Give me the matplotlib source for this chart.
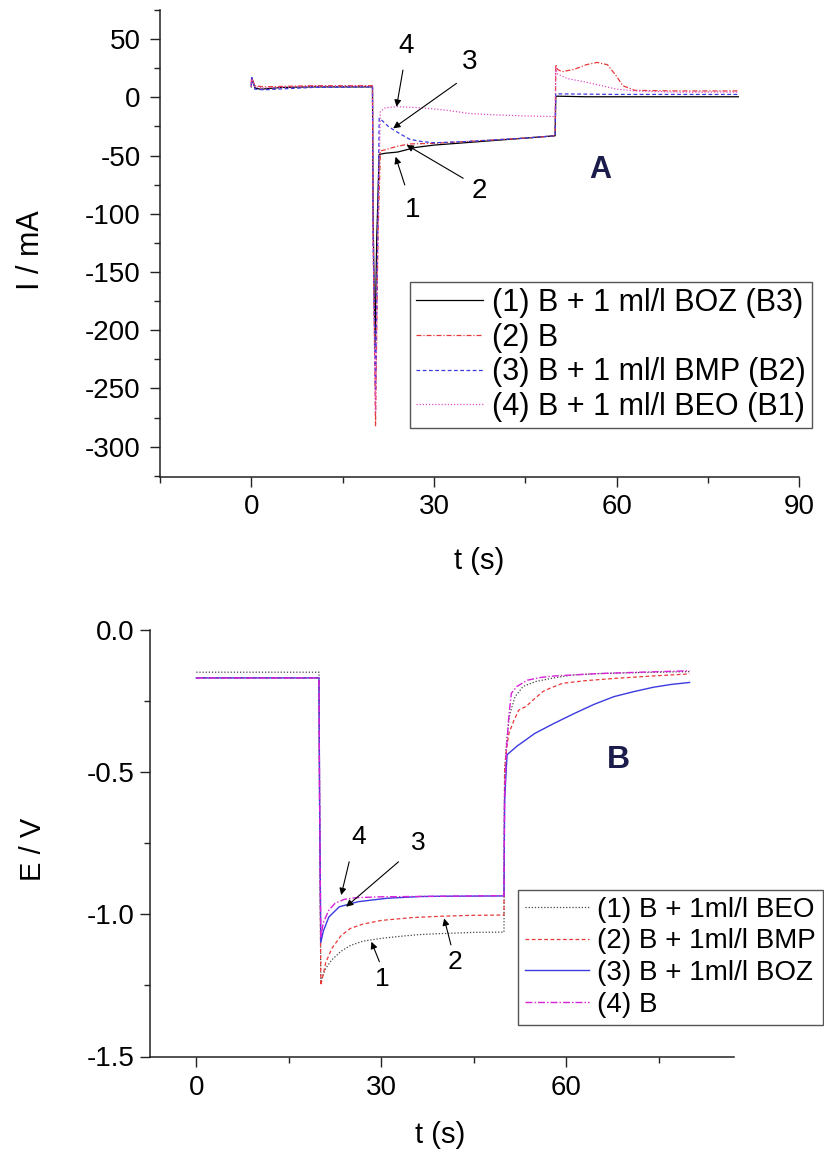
import matplotlib
matplotlib.use("Agg")
import matplotlib.pyplot as plt
from matplotlib.ticker import MultipleLocator, FormatStrFormatter

plt.rcParams['font.family'] = ['Liberation Sans', 'DejaVu Sans']
plt.rcParams['axes.unicode_minus'] = False

# ---------------- Panel A data: current I (mA) vs t (s) ----------------
tA1 = [0, 0.05, 0.6, 1.5, 5, 10, 19.9, 20.0, 20.3, 20.6, 21.0, 22, 24, 27, 30, 35, 40, 45, 49.9, 50.0, 50.2, 55, 60, 70, 80]
iA1 = [9, 17, 8, 7, 8.5, 9, 9, -100, -215, -120, -49, -48, -47, -43, -41, -39, -37, -35, -33, 0.5, 1, 0.5, 0.5, 0.5, 0.5]

tA2 = [0, 0.05, 0.6, 2, 10, 19.9, 20.0, 20.4, 20.8, 21.2, 22, 24, 26, 30, 35, 40, 45, 49.9, 50.0, 50.3, 51, 53, 55, 56.8, 58.5, 60, 61, 63, 70, 80]
iA2 = [10, 17, 10, 9, 10, 10, -120, -282, -120, -46, -45, -42, -40, -39.5, -38, -36.5, -35, -33, 28, 24, 22, 24, 28, 30, 28, 18, 10, 6, 5.5, 5.5]

tA3 = [0, 0.05, 0.6, 2, 10, 19.9, 20.0, 20.4, 20.8, 21.0, 21.5, 22.5, 24, 26, 28, 30, 35, 40, 45, 49.9, 50.0, 50.3, 60, 80]
iA3 = [10, 17, 7, 6.5, 8.5, 9, -120, -250, -100, -18, -20, -25, -30, -36, -38, -39, -38, -36.5, -35, -33, 3, 3, 2.5, 2.5]

tA4 = [0, 0.05, 0.6, 2, 10, 19.9, 20.0, 20.4, 20.8, 21.2, 22, 24, 28, 32, 36, 40, 45, 49.9, 50.0, 50.3, 52, 55, 57.5, 60, 63, 66, 70, 80]
iA4 = [9, 16, 9, 8, 9.5, 9.5, -120, -270, -110, -12, -9, -8, -9, -11, -14, -15, -16, -16.5, 25, 20, 16, 13, 10, 7, 5.5, 5, 4.5, 4.5]

labelsA = ['(1) B + 1 ml/l BOZ (B3)', '(2) B', '(3) B + 1 ml/l BMP (B2)', '(4) B + 1 ml/l BEO (B1)']

# ---------------- Panel B data: potential E (V) vs t (s) ----------------
tB1 = [0, 19.9, 20.0, 20.2, 21, 22, 23.5, 25, 27, 30, 33, 36, 40, 45, 49.9, 50.0, 50.3, 50.8, 51.7, 53, 55, 58, 61, 65, 70, 75, 80]
eB1 = [-0.15, -0.15, -0.6, -1.235, -1.19, -1.16, -1.13, -1.11, -1.095, -1.085, -1.078, -1.072, -1.068, -1.064, -1.063, -0.5, -0.40, -0.30, -0.236, -0.20, -0.183, -0.170, -0.160, -0.155, -0.152, -0.150, -0.148]

tB2 = [0, 19.9, 20.0, 20.2, 21, 22, 23.5, 25, 27, 30, 35, 40, 45, 49.9, 50.0, 50.3, 50.7, 51.5, 52.3, 53.5, 54.5, 56.2, 57.5, 59.4, 63, 67.7, 75, 80]
eB2 = [-0.17, -0.17, -0.6, -1.25, -1.17, -1.12, -1.075, -1.05, -1.035, -1.022, -1.012, -1.007, -1.004, -1.003, -0.5, -0.42, -0.365, -0.32, -0.283, -0.27, -0.25, -0.218, -0.205, -0.189, -0.18, -0.172, -0.162, -0.156]

tB3 = [0, 19.9, 20.0, 20.2, 20.6, 21.5, 23.2, 26.3, 31, 36.4, 40, 49.9, 50.0, 50.4, 52, 54.9, 58, 61.3, 64.5, 67.7, 71, 74.1, 77, 80]
eB3 = [-0.17, -0.17, -0.6, -1.10, -1.06, -1.01, -0.974, -0.956, -0.944, -0.938, -0.937, -0.936, -0.6, -0.44, -0.41, -0.365, -0.33, -0.295, -0.263, -0.236, -0.218, -0.203, -0.193, -0.186]

tB4 = [0, 19.9, 20.0, 20.2, 20.6, 21.5, 22.5, 24, 26, 30, 40, 49.9, 50.0, 50.3, 50.7, 51.1, 52, 53.7, 56, 58.2, 65, 72, 80]
eB4 = [-0.17, -0.17, -0.6, -1.08, -1.03, -0.986, -0.962, -0.948, -0.942, -0.939, -0.937, -0.935, -0.6, -0.42, -0.30, -0.224, -0.2, -0.178, -0.168, -0.163, -0.155, -0.150, -0.145]

labelsB = ['(1) B + 1ml/l BEO', '(2) B + 1ml/l BMP', '(3) B + 1ml/l BOZ', '(4) B']

RED = '#e8383a'
BLUE = '#3a3ae0'
PINK = '#e050c8'
MAG = '#d822d8'
NAVY = '#1c1c4c'
AXC = '#222222'

fig = plt.figure(figsize=(8.24, 11.52), dpi=100)
W, H = 824.0, 1152.0

def style_axes(ax, xpad, ypad):
    for s in ['top', 'right']:
        ax.spines[s].set_visible(False)
    for s in ['left', 'bottom']:
        ax.spines[s].set_color(AXC)
        ax.spines[s].set_linewidth(1.1)
    ax.tick_params(which='major', direction='out', length=7, width=1.0, color=AXC, labelsize=20)
    ax.tick_params(which='minor', direction='out', length=4, width=1.0, color=AXC)
    ax.tick_params(axis='x', which='major', pad=xpad)
    ax.tick_params(axis='y', which='major', pad=ypad)

# ---------------- Panel A ----------------
axA = fig.add_axes([160 / W, 1 - 477 / H, (799.3 - 160) / W, (477 - 10) / H])
lw = 0.9
axA.plot(tA1, iA1, color='black', lw=lw, ls='-', label=labelsA[0])
axA.plot(tA2, iA2, color=RED, lw=lw, ls=(0, (4, 1.5, 1, 1.5)), label=labelsA[1])
axA.plot(tA3, iA3, color=BLUE, lw=lw, ls=(0, (3, 2)), label=labelsA[2])
axA.plot(tA4, iA4, color=PINK, lw=lw, ls=(0, (1, 1.5)), label=labelsA[3])
axA.set_xlim(-15, 90)
axA.set_ylim(-326, 75)
axA.xaxis.set_major_locator(MultipleLocator(30))
axA.xaxis.set_minor_locator(MultipleLocator(15))
axA.yaxis.set_major_locator(MultipleLocator(50))
axA.yaxis.set_minor_locator(MultipleLocator(25))
style_axes(axA, 5, 7)

legA = axA.legend(loc='upper left', bbox_to_anchor=(410 / W, 1 - 282 / H), bbox_transform=fig.transFigure,
                  fontsize=22, frameon=True, fancybox=False, edgecolor='#555555', framealpha=1,
                  handlelength=2.2, handletextpad=0.3, labelspacing=0.15, borderpad=0.2, borderaxespad=0)
legA.get_frame().set_linewidth(1.0)

arrow_kw = dict(arrowstyle='-|>', color='black', lw=0.8, mutation_scale=10, shrinkA=0, shrinkB=0)
# number labels and arrows for panel A
for txt, tx, ty, ax0, ay0, ax1, ay1 in [
    ('4', 25.5, 44, 24.9, 23.4, 23.85, -8.1),
    ('3', 35.9, 30, 33.7, 12, 23.3, -26.6),
    ('2', 37.5, -80, 34.8, -69.5, 25.5, -40.9),
    ('1', 26.5, -97, 25.2, -75.2, 23.7, -51),
]:
    axA.text(tx, ty, txt, fontsize=20, ha='center', va='center')
    axA.annotate('', xy=(ax1, ay1), xytext=(ax0, ay0), arrowprops=arrow_kw)
axA.text(57.3, -62.4, 'A', fontsize=22, fontweight='bold', color=NAVY, ha='center', va='center')

fig.text(31 / W, 1 - 250 / H, 'I / mA', rotation=90, fontsize=22, ha='center', va='center')
fig.text(479.5 / W, 1 - 561 / H, 't (s)', fontsize=21, ha='center', va='center')

# ---------------- Panel B ----------------
axB = fig.add_axes([150 / W, 1 - 1056.5 / H, (734 - 150) / W, (1056.5 - 629.5) / H])
axB.plot(tB1, eB1, color='#444444', lw=lw, ls=(0, (1, 1.5)), label=labelsB[0])
axB.plot(tB2, eB2, color=RED, lw=lw, ls=(0, (3, 2)), label=labelsB[1])
axB.plot(tB3, eB3, color=BLUE, lw=1.0, ls='-', label=labelsB[2])
axB.plot(tB4, eB4, color=MAG, lw=1.0, ls=(0, (5, 1.5, 1, 1.5)), label=labelsB[3])
axB.set_xlim(-7.5, 87.2)
axB.set_ylim(-1.5, 0.0)
axB.xaxis.set_major_locator(MultipleLocator(30))
axB.xaxis.set_minor_locator(MultipleLocator(15))
axB.yaxis.set_major_locator(MultipleLocator(0.5))
axB.yaxis.set_minor_locator(MultipleLocator(0.25))
axB.yaxis.set_major_formatter(FormatStrFormatter('%.1f'))
style_axes(axB, 6, 4)

legB = axB.legend(loc='upper left', bbox_to_anchor=(518 / W, 1 - 890 / H), bbox_transform=fig.transFigure,
                  fontsize=20, frameon=True, fancybox=False, edgecolor='#555555', framealpha=1,
                  handlelength=2.3, handletextpad=0.3, labelspacing=0.2, borderpad=0.25, borderaxespad=0)
legB.get_frame().set_linewidth(1.0)

for txt, tx, ty, ax0, ay0, ax1, ay1 in [
    ('4', 26.4, -0.728, 24.8, -0.816, 23.5, -0.933),
    ('3', 36.0, -0.751, 32.8, -0.816, 24.3, -0.974),
    ('1', 30.2, -1.226, 29.7, -1.167, 28.4, -1.097),
    ('2', 41.9, -1.167, 41.3, -1.108, 40.2, -1.015),
]:
    axB.text(tx, ty, txt, fontsize=19, ha='center', va='center')
    axB.annotate('', xy=(ax1, ay1), xytext=(ax0, ay0), arrowprops=arrow_kw)
axB.text(68.4, -0.459, 'B', fontsize=23, fontweight='bold', color=NAVY, ha='center', va='center')

fig.text(33 / W, 1 - 849 / H, 'E / V', rotation=90, fontsize=21, ha='center', va='center')
fig.text(440 / W, 1 - 1135 / H, 't (s)', fontsize=21, ha='center', va='center')

fig.savefig('out.png', dpi=100, facecolor='white')
